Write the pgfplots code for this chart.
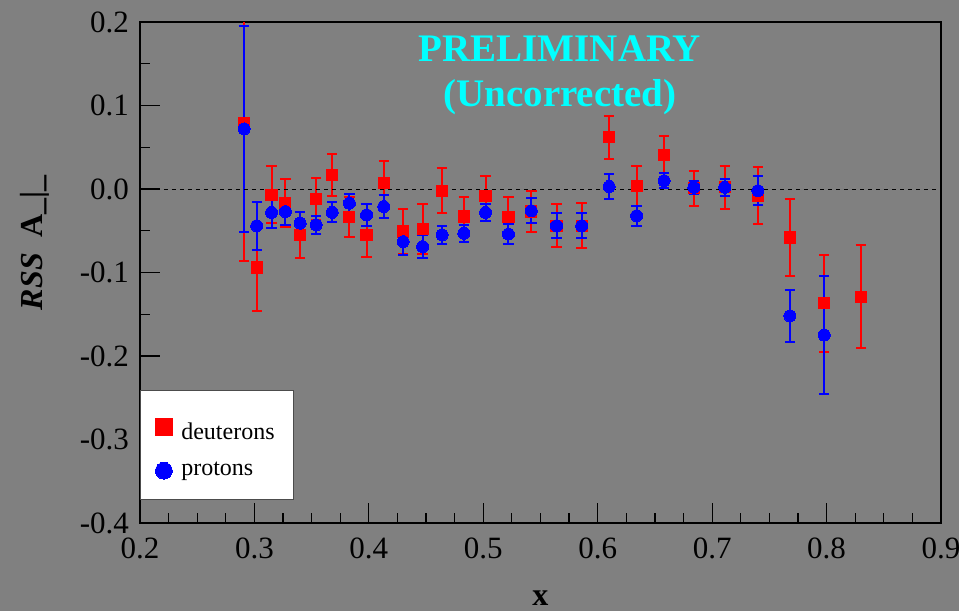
\documentclass[border=0pt]{standalone}
\usepackage{fontspec}
\setmainfont{Liberation Serif}
\usepackage{pgfplots}
\usepackage{pgfplotstable}
\pgfplotsset{compat=1.18}
\definecolor{bggray}{RGB}{128,128,128}
\definecolor{dred}{RGB}{255,0,0}
\definecolor{pblue}{RGB}{0,0,255}
\definecolor{prelim}{RGB}{0,255,255}

% x, asymmetry, error
\pgfplotstableread{
x y e
0.291 0.079 0.165
0.302 -0.094 0.052
0.315 -0.007 0.034
0.327 -0.017 0.029
0.340 -0.055 0.028
0.354 -0.012 0.025
0.368 0.017 0.025
0.383 -0.034 0.024
0.398 -0.055 0.026
0.413 0.007 0.027
0.430 -0.051 0.027
0.447 -0.048 0.030
0.464 -0.002 0.027
0.483 -0.033 0.024
0.502 -0.008 0.023
0.522 -0.034 0.024
0.542 -0.027 0.025
0.564 -0.044 0.026
0.586 -0.044 0.027
0.610 0.062 0.026
0.634 0.004 0.024
0.658 0.041 0.022
0.684 0.001 0.021
0.711 0.002 0.026
0.740 -0.008 0.034
0.768 -0.058 0.046
0.798 -0.137 0.058
0.830 -0.129 0.062
}\deuterons

\pgfplotstableread{
x y e
0.291 0.072 0.123
0.302 -0.044 0.029
0.315 -0.028 0.019
0.327 -0.027 0.016
0.340 -0.041 0.014
0.354 -0.043 0.011
0.368 -0.028 0.012
0.383 -0.017 0.011
0.398 -0.031 0.013
0.413 -0.021 0.014
0.430 -0.063 0.016
0.447 -0.069 0.014
0.464 -0.055 0.011
0.483 -0.053 0.010
0.502 -0.028 0.010
0.522 -0.054 0.012
0.542 -0.026 0.015
0.564 -0.044 0.015
0.586 -0.044 0.015
0.610 0.003 0.015
0.634 -0.032 0.012
0.658 0.010 0.009
0.684 0.002 0.008
0.711 0.002 0.010
0.740 -0.002 0.017
0.768 -0.152 0.031
0.798 -0.175 0.071
}\protons

\begin{document}
\begin{tikzpicture}[x=1pt,y=1pt]
\path[use as bounding box, fill=bggray] (-70,-44) rectangle (409.5,261.5);
\begin{axis}[
    at={(0,0)}, anchor=south west,
    scale only axis,
    width=400.5pt, height=250.5pt,
    xmin=0.2, xmax=0.9, ymin=-0.4, ymax=0.2,
    xtick={0.2,0.3,0.4,0.5,0.6,0.7,0.8,0.9},
    xticklabels={0.2,0.3,0.4,0.5,0.6,0.7,0.8,0.9},
    ytick={-0.4,-0.3,-0.2,-0.1,0,0.1,0.2},
    yticklabels={-0.4,-0.3,-0.2,-0.1,0.0,0.1,0.2},
    minor x tick num=3, minor y tick num=1,
    tick pos=left, tick align=inside,
    major tick length=10pt, minor tick length=5pt,
    tick style={black, line width=0.6pt},
    axis line style={black, line width=0.6pt},
    ticklabel style={font=\fontsize{15.5}{18}\selectfont},
    xticklabel style={yshift=-4pt},
    yticklabel style={xshift=-2pt},
    xlabel={\textbf{x}},
    xlabel style={font=\fontsize{16}{18}\selectfont, at={(rel axis cs:0.5,0)}, anchor=north, yshift=-30.5pt},
    ylabel={\textbf{\textit{RSS}}\ \ \textbf{A\_|\_}},
    ylabel style={font=\fontsize{16}{18}\selectfont, at={(rel axis cs:0,0.56)}, anchor=south, yshift=42pt},
    legend cell align=left,
    legend style={at={(rel axis cs:0,0.046)}, anchor=south west,
        draw=black!70, fill=white, line width=0.5pt,
        font=\fontsize{12}{14}\selectfont,
        inner xsep=7.5pt, inner ysep=8.25pt, row sep=6pt,
        /tikz/every odd column/.append style={column sep=2.5pt}},
    legend image post style={mark size=4.2pt},
    clip=true,
]
\addplot[only marks, mark=square*, mark size=2.8pt, mark options={draw=dred, fill=dred, line width=0pt}, color=dred,
    error bars/.cd, y dir=both, y explicit,
    error bar style={dred, line width=1pt},
    error mark options={dred, line width=1pt, mark size=2.6pt, rotate=90}]
    table[x=x, y=y, y error=e] {\deuterons};
\addlegendentry{\rule{0pt}{14pt}deuterons}
\addplot[only marks, mark=*, mark size=3pt, mark options={draw=pblue, fill=pblue, line width=0pt}, color=pblue,
    error bars/.cd, y dir=both, y explicit,
    error bar style={pblue, line width=1pt},
    error mark options={pblue, line width=1pt, mark size=2.6pt, rotate=90}]
    table[x=x, y=y, y error=e] {\protons};
\addlegendentry{protons}
\addplot[black, line width=0.5pt, dash pattern=on 2pt off 2pt, forget plot] coordinates {(0.2,0) (0.9,0)};
\node[font=\bfseries\fontsize{19.5}{22.5}\selectfont, text=prelim, align=center]
    at (axis cs:0.567,0.136) {PRELIMINARY\\(Uncorrected)};
\end{axis}
\end{tikzpicture}
\end{document}
